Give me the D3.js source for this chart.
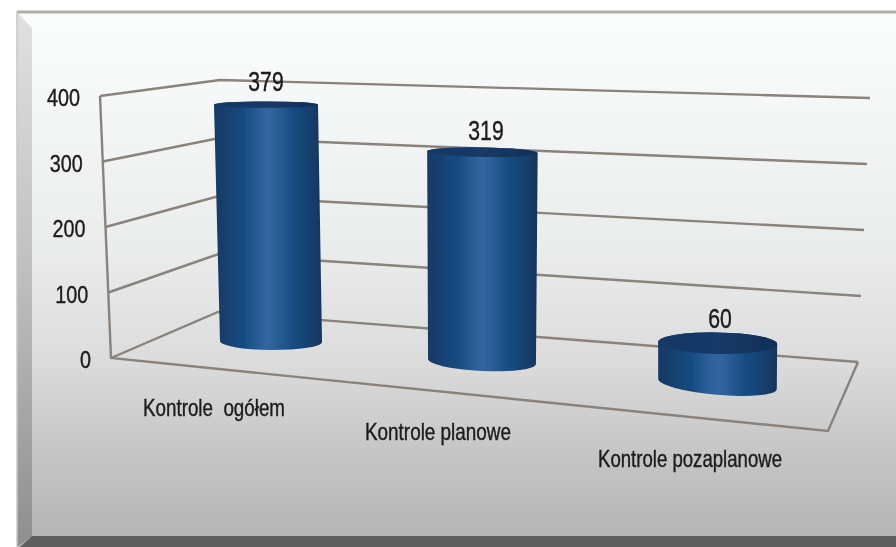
<!DOCTYPE html>
<html><head><meta charset="utf-8">
<script src="https://cdn.jsdelivr.net/npm/d3@7"></script>
<style>html,body{margin:0;padding:0;background:#fff;overflow:hidden}svg{display:block}
text{font-family:"Liberation Sans",sans-serif;fill:#1b1b1d;stroke:#1b1b1d;stroke-width:.4;white-space:pre}</style>
</head><body><svg id="c" width="896" height="547"></svg>
<script>
const categories = ["Kontrole  ogółem", "Kontrole planowe", "Kontrole pozaplanowe"];
const values = [379, 319, 60];
const tickValues = [0, 100, 200, 300, 400];

const root = d3.select("#c");
const defs = root.append("defs");
defs.append("filter").attr("id", "soft").attr("x", 0).attr("y", 0).attr("width", 1).attr("height", 1)
  .attr("filterUnits", "objectBoundingBox")
  .append("feGaussianBlur").attr("stdDeviation", 0.45);
const svg = root.append("g").attr("filter", "url(#soft)");
svg.append("rect").attr("width", 896).attr("height", 547).attr("fill", "#fff");
const grad = (id, stops, x2, y2) => {
  const g = defs.append("linearGradient").attr("id", id).attr("x1", 0).attr("y1", 0).attr("x2", x2).attr("y2", y2);
  stops.forEach(s => g.append("stop").attr("offset", s[0]).attr("stop-color", s[1]));
};
grad("bg", [[0,"#fbfcfc"],[.12,"#f7f8f8"],[.45,"#eaebeb"],[.65,"#dcdcdc"],[.82,"#c6c6c6"],[1,"#b2b3b3"]], 0, 1);
grad("bev", [[0,"#dfe1e3"],[.5,"#bdbec0"],[1,"#8e8e8e"]], 0, 1);
grad("body", [[0,"#173a66"],[.1,"#173f6e"],[.28,"#174c82"],[.42,"#2a5e97"],[.5,"#34669f"],[.58,"#2a5e97"],[.74,"#164b80"],[.9,"#163f6c"],[1,"#15345c"]], 1, 0);
grad("cap", [[0,"#123764"],[.5,"#133a68"],[1,"#112f56"]], 1, 0);

// frame
svg.append("rect").attr("x", 17).attr("y", 12).attr("width", 879).attr("height", 535).attr("fill", "url(#bg)");
svg.append("path").attr("d", "M17,12L32,28L32,536L17,547Z").attr("fill", "url(#bev)");
svg.append("path").attr("d", "M32,536L896,536L896,547L20,547Z").attr("fill", "#5f5f5f");
svg.append("line").attr("x1", 17).attr("x2", 896).attr("y1", 12).attr("y2", 12).attr("stroke", "#b3aea7").attr("stroke-width", 3);
svg.append("line").attr("x1", 17).attr("x2", 17).attr("y1", 11).attr("y2", 547).attr("stroke", "#c9c7c4").attr("stroke-width", 1.5);

// walls: one linear value scale per vertical edge of the 3D box
const d = [0, 400];
const leftX = d3.scaleLinear().domain(d).range([111, 100]);
const leftY = d3.scaleLinear().domain(d).range([358, 96]);
const backX = d3.scaleLinear().domain(d).range([218, 220]);
const backY = d3.scaleLinear().domain(d).range([312, 80]);
const rightX = d3.scaleLinear().domain(d).range([858, 870]);
const rightY = d3.scaleLinear().domain(d).range([362, 98]);
const lineCol = "#8a827b";
const grid = svg.append("g").attr("fill", "none").attr("stroke", lineCol).attr("stroke-width", 2.4).attr("stroke-linejoin", "miter");
const line = d3.line();
grid.selectAll("path.g").data(tickValues).join("path").attr("class", "g")
  .attr("d", v => line([[leftX(v), leftY(v)], [backX(v), backY(v)], [rightX(v), rightY(v)]]));
grid.append("path").attr("d", line([[leftX(400), leftY(400)], [leftX(0), leftY(0)], [828, 431], [rightX(0), rightY(0)]]));

// tick labels
svg.append("g").selectAll("text").data(tickValues).join("text")
  .attr("x", v => leftX(v) - 20).attr("y", v => leftY(v) + 10)
  .attr("text-anchor", "end").attr("font-size", 24.5)
  .attr("textLength", v => String(v).length * 11).attr("lengthAdjust", "spacingAndGlyphs").text(v => v);

// cylinders: perspective makes each category's value scale and tilt slightly different
const idx = categories.map((c, i) => i);
const cxBase = d3.scaleOrdinal().domain(idx).range([271, 482, 717.5]);
const cxTop = d3.scaleOrdinal().domain(idx).range([266, 482.5, 718.5]);
const rxBase = d3.scaleOrdinal().domain(idx).range([51, 54, 59.5]);
const rxTop = d3.scaleOrdinal().domain(idx).range([52, 55.5, 59.5]);
const y0 = [341.5, 361.5, 384];
const y400 = [91.5, 99, 112];
const tiltBase = [0.5, 2.6, 5];
const tiltTop = [0, 1, 1];
const ryBase = [8.5, 9.5, 10.8];
const ryTop = d3.scaleLinear().domain([104, 343]).range([3.2, 10.8]);
const toRad = Math.PI / 180;

const bars = svg.append("g");
idx.forEach(i => {
  const v = values[i];
  const yS = d3.scaleLinear().domain(d).range([y0[i], y400[i]]);
  const xS = d3.scaleLinear().domain([0, 379]).range([cxBase(i), cxTop(i)]);
  const rS = d3.scaleLinear().domain([0, 379]).range([rxBase(i), rxTop(i)]);
  const bx = cxBase(i), by = yS(0), br = rxBase(i), bt = tiltBase[i], bry = ryBase[i];
  const tx = xS(v), ty = yS(v), tr = rS(v), tt = tiltTop[i], try_ = ryTop(ty);
  const pts = (x, y, r, t) => [
    [x - r * Math.cos(t * toRad), y - r * Math.sin(t * toRad)],
    [x + r * Math.cos(t * toRad), y + r * Math.sin(t * toRad)]];
  const [bl, brt] = pts(bx, by, br, bt);
  const [tl, trt] = pts(tx, ty, tr, tt);
  bars.append("path")
    .attr("d", `M${tl}L${bl}A${br},${bry} ${bt} 0 0 ${brt}L${trt}A${tr},${try_} ${tt} 0 0 ${tl}Z`)
    .attr("fill", "url(#body)");
  bars.append("ellipse").attr("cx", 0).attr("cy", 0).attr("rx", tr).attr("ry", try_)
    .attr("transform", `translate(${tx},${ty}) rotate(${tt})`).attr("fill", "url(#cap)");
});

// value labels
const labelX = [266, 486, 720], labelY = [91, 140, 328];
svg.append("g").selectAll("text").data(values).join("text")
  .attr("x", (v, i) => labelX[i]).attr("y", (v, i) => labelY[i])
  .attr("text-anchor", "middle").attr("font-size", 27.5)
  .attr("textLength", v => String(v).length * 11.8).attr("lengthAdjust", "spacingAndGlyphs").text(v => v);

// category labels
const catX = [143, 365, 598], catY = [416, 440, 467], catW = [142, 146, 184];
svg.append("g").selectAll("text").data(categories).join("text")
  .attr("x", (c, i) => catX[i]).attr("y", (c, i) => catY[i])
  .attr("font-size", 24).attr("textLength", (c, i) => catW[i]).attr("lengthAdjust", "spacingAndGlyphs").text(c => c);
</script></body></html>
